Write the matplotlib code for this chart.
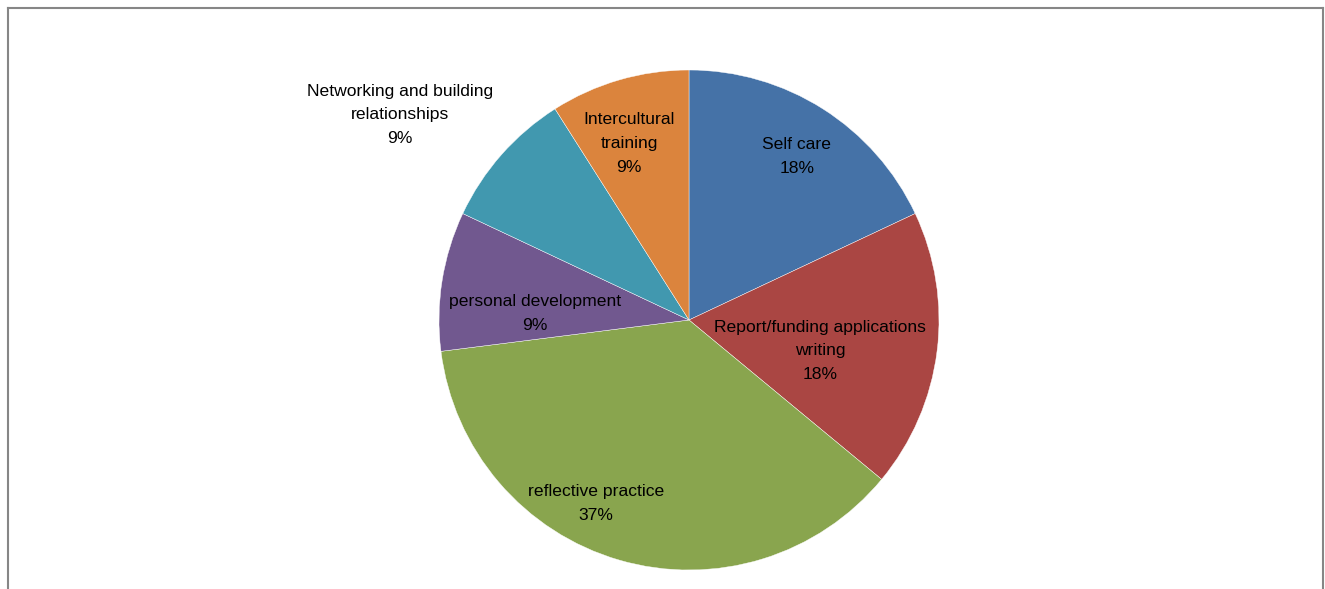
import matplotlib
matplotlib.use("Agg")
import matplotlib.pyplot as plt
from matplotlib.lines import Line2D

FONT = ["Liberation Sans Narrow", "Liberation Sans", "DejaVu Sans"]

CATEGORIES = ["Self care", "Report/funding applications\nwriting", "reflective practice",
              "personal development", "Networking and building\nrelationships",
              "Intercultural\ntraining"]
SHARES = [18, 18, 37, 9, 9, 9]
COLORS = ["#4572A7", "#AA4643", "#89A54E", "#71588F", "#4198AF", "#DB843D"]

# label centres in pie-radius units
LABEL_POS = [(0.432, 0.655), (0.524, -0.124), (-0.372, -0.735),
             (-0.616, 0.025), (-1.156, 0.82), (-0.24, 0.705)]

W, H = 1325, 589
fig = plt.figure(figsize=(W / 100, H / 100), dpi=100)
cx, cy, r = 689, 320, 250
ax = fig.add_axes([(cx - r) / W, (H - cy - r) / H, 2 * r / W, 2 * r / H])
ax.pie(SHARES, colors=COLORS, startangle=90, counterclock=False, radius=1,
       wedgeprops=dict(edgecolor="white", linewidth=0.3))
ax.set_xlim(-1, 1)
ax.set_ylim(-1, 1)
ax.set_aspect("equal")
ax.axis("off")

for name, share, (x, y) in zip(CATEGORIES, SHARES, LABEL_POS):
    ax.text(x, y, f"{name}\n{share}%", ha="center", va="center",
            fontsize=12.6, family=FONT, color="#000000", linespacing=1.74,
            clip_on=False)

# chart frame (bottom edge falls outside the canvas)
edge = "#868686"
fig.add_artist(Line2D([8 / W, 8 / W], [0, 1 - 8 / H], transform=fig.transFigure,
                      color=edge, linewidth=1.5))
fig.add_artist(Line2D([8 / W, 1323 / W], [1 - 8 / H, 1 - 8 / H], transform=fig.transFigure,
                      color=edge, linewidth=1.5))
fig.add_artist(Line2D([1323 / W, 1323 / W], [0, 1 - 8 / H], transform=fig.transFigure,
                      color=edge, linewidth=1.5))

fig.savefig("out.png", dpi=100)
